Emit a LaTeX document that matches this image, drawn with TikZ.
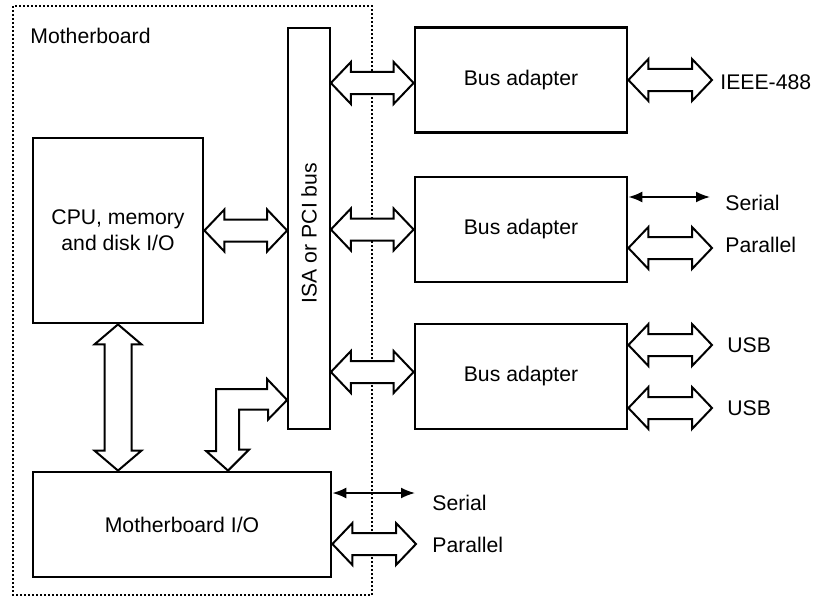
\documentclass[tikz,border=0pt]{standalone}
\usepackage{fontspec}
\setmainfont{Liberation Sans}
\usetikzlibrary{arrows.meta,calc,positioning}

% open double block arrow: #1 shaft half width, #2 head half width, #3 from, #4 to
\newcommand{\dblarrow}[4]{%
  \draw[blockarrow] (#3)
    -- ($(#3)!10pt!(#4)!#2!90:(#4)$) -- ($(#3)!10pt!(#4)!#1!90:(#4)$)
    -- ($(#4)!10pt!(#3)!#1!-90:(#3)$) -- ($(#4)!10pt!(#3)!#2!-90:(#3)$)
    -- (#4)
    -- ($(#4)!10pt!(#3)!#2!90:(#3)$) -- ($(#4)!10pt!(#3)!#1!90:(#3)$)
    -- ($(#3)!10pt!(#4)!#1!-90:(#4)$) -- ($(#3)!10pt!(#4)!#2!-90:(#4)$)
    -- cycle;}

\begin{document}
\begin{tikzpicture}[
    x=0.5pt,y=-0.5pt,
    font=\fontsize{10.6}{13}\selectfont,
    box/.style={draw,line width=1.4pt,align=center,inner sep=0pt},
    adapter/.style={box,minimum width=106pt,minimum height=52.5pt},
    busbar/.style={draw,line width=0.9pt,minimum width=21pt,minimum height=200.5pt,inner sep=0pt},
    board/.style={draw,line width=1pt,dash pattern=on 1pt off 1pt},
    blockarrow/.style={draw,fill=white,line width=1pt,line join=miter},
    thinarr/.style={{Latex[length=7pt,width=5.5pt]}-{Latex[length=7pt,width=5.5pt]},line width=0.9pt},
    lbl/.style={anchor=west,inner sep=0pt}
  ]
  \useasboundingbox (0,0) rectangle (822,599);

  % motherboard outline
  \draw[board] (13,6) rectangle (372,595);
  \node[lbl] (mblabel) at (30,36) {Motherboard};

  % blocks
  \node[box,minimum width=85pt,minimum height=92.5pt] (cpu) at (118,230.5) {CPU, memory\\and disk I/O};
  \node[busbar] (bus) at (309,228.5) {};
  \node[rotate=90] (buslabel) at (309,233) {ISA or PCI bus};
  \node[box,minimum width=149pt,minimum height=52.5pt] (mbio) at (182,524.5) {Motherboard I/O};
  \node[adapter] (A1) at (521,80) {Bus adapter};
  \node[adapter] (A2) at (521,229.5) {Bus adapter};
  \node[adapter] (A3) at (521,376.5) {Bus adapter};

  % outside labels
  \node[lbl] (ieee) at (720,82) {IEEE-488};
  \node[lbl] (ser2) at (725,203) {Serial};
  \node[lbl] (par2) at (725,245) {Parallel};
  \node[lbl] (usb1) at (727,345) {USB};
  \node[lbl] (usb2) at (727,408) {USB};
  \node[lbl] (ser3) at (432,503) {Serial};
  \node[lbl] (par3) at (432,545) {Parallel};

  % connector end points
  \coordinate (b0) at (bus.west |- cpu.east);
  \coordinate (b1) at (bus.east |- 0,83);
  \coordinate (b2) at (bus.east |- A2.west);
  \coordinate (b3) at (bus.east |- 0,372);
  \coordinate (a1) at (A1.west |- 0,83);
  \coordinate (a3) at (A3.west |- 0,372);
  \coordinate (e1) at (A1.east -| 712,0);
  \coordinate (a2s) at (A2.east |- 0,197);
  \coordinate (e2s) at (710,197);
  \coordinate (a2p) at (A2.east |- 0,248);
  \coordinate (e2p) at (712,248);
  \coordinate (a3u) at (A3.east |- 0,345);
  \coordinate (e3u) at (712,345);
  \coordinate (a3v) at (A3.east |- 0,408);
  \coordinate (e3v) at (712,408);
  \coordinate (ms) at (mbio.east |- 0,493);
  \coordinate (ems) at (415,493);
  \coordinate (mp) at (mbio.east |- 0,544);
  \coordinate (emp) at (416,544);
  \coordinate (iotop) at (mbio.north -| cpu.south);
  \coordinate (iotip) at (228,0 |- mbio.north);
  \coordinate (bustip) at (bus.west |- 0,400);

  % bus connections
  \dblarrow{5.5pt}{10.5pt}{cpu.east}{b0}
  \dblarrow{5.5pt}{10.5pt}{b1}{a1}
  \dblarrow{5.5pt}{10.5pt}{b2}{A2.west}
  \dblarrow{5.5pt}{10.5pt}{b3}{a3}
  \dblarrow{6.75pt}{11.75pt}{cpu.south}{iotop}
  \draw[blockarrow] (iotip) -- ++(21,-21) -- ++(-10,0) -- ++(0,-40) -- ++(29,0)
    -- ++(0,10) -- (bustip) -- ++(-20,-21) -- ++(0,10) -- ++(-51,0)
    -- ++(0,62) -- ++(-10,0) -- cycle;

  % outside connections
  \dblarrow{5.5pt}{10.5pt}{A1.east}{e1}
  \draw[thinarr] (a2s) -- (e2s);
  \dblarrow{5.5pt}{10.5pt}{a2p}{e2p}
  \dblarrow{5.5pt}{10.5pt}{a3u}{e3u}
  \dblarrow{5.5pt}{10.5pt}{a3v}{e3v}
  \draw[thinarr] (ms) -- (ems);
  \dblarrow{5.5pt}{10.5pt}{mp}{emp}
\end{tikzpicture}
\end{document}
